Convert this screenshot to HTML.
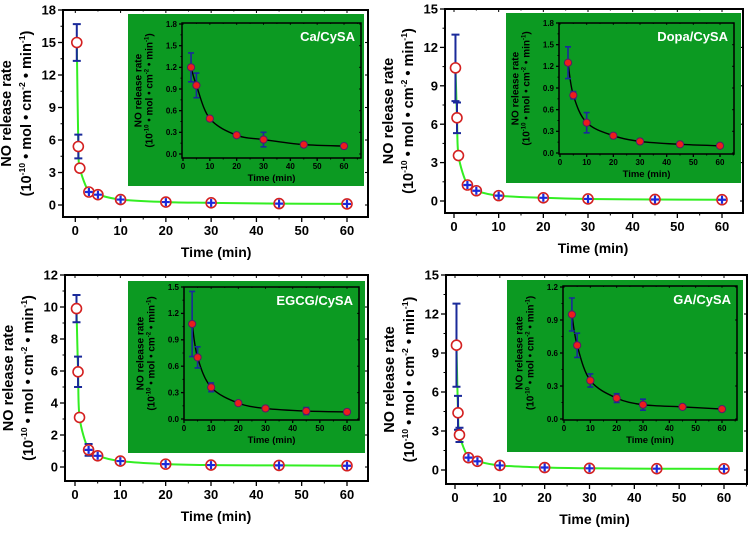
<!DOCTYPE html>
<html><head><meta charset="utf-8"><style>
html,body{margin:0;padding:0;background:#fff;width:749px;height:536px;overflow:hidden}
svg{display:block;font-family:"Liberation Sans",Arial,sans-serif;font-weight:bold}
</style></head><body>
<svg id="fig" width="749" height="536" viewBox="0 0 749 536"></svg>
<script>
const mainTimes=[0.33,0.67,1,3,5,10,20,30,45,60];
const insetTimes=[3,5,10,20,30,45,60];
const p1Main=[15,5.4,3.4,1.2,0.95,0.5,0.27,0.2,0.13,0.1];
const p1MainErr=[1.7,1.1,0.3,0.15,0.1,0.05,0.03,0.02,0.01,0.01];
const p1Inset=[1.2,0.95,0.49,0.26,0.2,0.13,0.11];
const p1InsetErr=[0.2,0.17,0.02,0.02,0.1,0.01,0.02];
const p2Main=[10.4,6.5,3.55,1.25,0.8,0.42,0.25,0.16,0.12,0.1];
const p2MainErr=[2.6,1.2,0.1,0.1,0.1,0.05,0.03,0.02,0.01,0.01];
const p2Inset=[1.25,0.8,0.42,0.24,0.16,0.12,0.1];
const p2InsetErr=[0.22,0.05,0.14,0.02,0.03,0.02,0.01];
const p3Main=[9.9,5.95,3.1,1.07,0.7,0.37,0.18,0.12,0.1,0.08];
const p3MainErr=[0.85,0.95,0.1,0.37,0.1,0.05,0.02,0.02,0.02,0.01];
const p3Inset=[1.08,0.7,0.36,0.18,0.12,0.09,0.08];
const p3InsetErr=[0.37,0.12,0.05,0.02,0.02,0.04,0.01];
const p4Main=[9.6,4.4,2.7,0.95,0.67,0.35,0.19,0.13,0.1,0.09];
const p4MainErr=[3.2,1.3,0.55,0.1,0.08,0.05,0.03,0.02,0.01,0.01];
const p4Inset=[0.95,0.67,0.35,0.19,0.13,0.11,0.09];
const p4InsetErr=[0.15,0.11,0.06,0.04,0.05,0.01,0.02];
const mainYTicks1=[0,3,6,9,12,15,18];
const mainYTicks2=[0,3,6,9,12,15];
const mainYTicks3=[0,2,4,6,8,10,12];
const mainYTicks4=[0,3,6,9,12,15];
const insetYTicks1=[0,0.3,0.6,0.9,1.2,1.5,1.8];
const insetYTicks3=[0,0.3,0.6,0.9,1.2,1.5];
const insetYTicks4=[0,0.3,0.6,0.9,1.2];
const xTicks=[0,10,20,30,40,50,60];
const labels=["Ca/CySA","Dopa/CySA","EGCG/CySA","GA/CySA"];

const NS="http://www.w3.org/2000/svg";
const svg=document.getElementById('fig');
function mk(tag,attrs,parent){const e=document.createElementNS(NS,tag);for(const k in attrs)e.setAttribute(k,attrs[k]);(parent||svg).appendChild(e);return e;}
function lin(d0,d1,r0,r1){return v=>r0+(v-d0)*(r1-r0)/(d1-d0);}
function smooth(pts){
  let d="M"+pts[0][0]+","+pts[0][1];
  for(let i=0;i<pts.length-1;i++){
    const p0=pts[Math.max(i-1,0)],p1=pts[i],p2=pts[i+1],p3=pts[Math.min(i+2,pts.length-1)];
    let c1x=p1[0]+(p2[0]-p0[0])/6,c1y=p1[1]+(p2[1]-p0[1])/6;
    let c2x=p2[0]-(p3[0]-p1[0])/6,c2y=p2[1]-(p3[1]-p1[1])/6;
    c1x=Math.max(p1[0],Math.min(p2[0],c1x));c2x=Math.max(p1[0],Math.min(p2[0],c2x));
    const lo=Math.min(p1[1],p2[1]),hi=Math.max(p1[1],p2[1]);
    c1y=Math.max(lo,Math.min(hi,c1y));c2y=Math.max(lo,Math.min(hi,c2y));
    d+=" C"+c1x+","+c1y+" "+c2x+","+c2y+" "+p2[0]+","+p2[1];
  }
  return d;
}
function fmt(v,dec){return dec?v.toFixed(1):String(v);}

function axes(g,G,yTicks,dec,fs,tl,small){
  const X=lin(0,60,G.x0,G.x60),Y=lin(0,yTicks[yTicks.length-1],G.y0,G.ymax);
  const fr=mk('rect',{x:G.L,y:G.T,width:G.R-G.L,height:G.B-G.T,fill:'none',stroke:'#000','stroke-width':small?1.5:2},g);
  
  const step=yTicks[1]-yTicks[0];
  for(let i=0;i<yTicks.length;i++){
    const v=yTicks[i],y=Y(v);
    mk('line',{x1:G.L-tl,x2:G.L,y1:y,y2:y,stroke:'#000','stroke-width':1.3},g);
    mk('line',{x1:G.R,x2:G.R-tl*0.6,y1:y,y2:y,stroke:'#000','stroke-width':1.1},g);
    const t=mk('text',{x:G.L-tl-2,y:y+fs*0.35,'text-anchor':'end','font-size':fs},g);t.textContent=fmt(v,dec);
    
  }
  for(let v=-step/2;Y(v)>=G.T-0.1;v+=step){const y=Y(v);if(y>G.B+0.1)continue;
    mk('line',{x1:G.L-tl/2,x2:G.L,y1:y,y2:y,stroke:'#000','stroke-width':1},g);}
  for(let v=-5;X(v)<=G.R;v+=5){const x=X(v);if(x<G.L)continue;const maj=(v%10===0);
    mk('line',{x1:x,x2:x,y1:G.B,y2:G.B+(maj?tl:tl/2),stroke:'#000','stroke-width':maj?1.3:1},g);
    mk('line',{x1:x,x2:x,y1:G.T,y2:G.T+(maj?tl*0.6:tl*0.3),stroke:'#000','stroke-width':1},g);
    if(xTicks.includes(v)){const t=mk('text',{x:x,y:G.B+tl+fs*1.0,'text-anchor':'middle','font-size':fs},g);t.textContent=v;
      }
  }
  return {X,Y};
}

function ytitle(g,cx,cy,fs,gap,fill){
  const t1=mk('text',{x:0,y:0,'text-anchor':'middle','font-size':fs,fill:fill,transform:`translate(${cx-gap},${cy}) rotate(-90)`},g);
  t1.textContent='NO release rate';
  
  const t2=mk('text',{x:0,y:0,'text-anchor':'middle','font-size':fs,fill:fill,transform:`translate(${cx+gap},${cy}) rotate(-90)`},g);
  t2.innerHTML=`(10<tspan dy="${-fs*0.4}" font-size="${fs*0.6}">-10</tspan><tspan dy="${fs*0.4}"> • mol • cm</tspan><tspan dy="${-fs*0.4}" font-size="${fs*0.6}">-2</tspan><tspan dy="${fs*0.4}"> • min</tspan><tspan dy="${-fs*0.4}" font-size="${fs*0.6}">-1</tspan><tspan dy="${fs*0.4}">)</tspan>`;
  
}

function panel(idx,M,I,main,mainErr,yT,ins,insErr,iyT){
  const g=mk('g',{});
  
  const A=axes(g,M,yT,false,13,5,false);
  const xt=mk('text',{x:(M.x0+M.x60)/2+5,y:M.B+40,'text-anchor':'middle','font-size':14},g);xt.textContent='Time (min)';
  
  ytitle(g,M.L-42,(M.T+M.B)/2,14.5,10,'#000');
  const bg=mk('rect',{x:I.gx,y:I.gy,width:I.gw,height:I.gh,fill:'#0c9a22'},g);
  
  const cp=mk('path',{d:smooth(mainTimes.map((t,i)=>[A.X(t),A.Y(main[i])])),fill:'none',stroke:'#33ee22','stroke-width':2},g);
  
  mainTimes.forEach((t,i)=>{
    const x=A.X(t),y=A.Y(main[i]),e=mainErr[i];
    const eb=mk('path',{d:`M${x},${A.Y(main[i]+e)}V${A.Y(main[i]-e)}M${x-4},${A.Y(main[i]+e)}h8M${x-4},${A.Y(main[i]-e)}h8`,stroke:'#1a2a9a','stroke-width':2,fill:'none'},g);
    
    const c=mk('circle',{cx:x,cy:y,r:5,fill:'#fff',stroke:'#d42020','stroke-width':1.6},g);
    
    if(i>=3){const p=mk('path',{d:`M${x-4},${y}h8M${x},${y-4}v8`,stroke:'#1a2adb','stroke-width':2.2},g);
      }
  });
  const B=axes(g,I,iyT,true,8,3,true);
  const it=mk('text',{x:(I.L+I.R)/2,y:I.B+23,'text-anchor':'middle','font-size':9.5},g);it.textContent='Time (min)';
  
  ytitle(g,I.L-35,(I.T+I.B)/2,10,5.5,'#000');
  const ic=mk('path',{d:smooth(insetTimes.map((t,i)=>[B.X(t),B.Y(ins[i])])),fill:'none',stroke:'#000','stroke-width':1.4},g);
  
  insetTimes.forEach((t,i)=>{
    const x=B.X(t),y=B.Y(ins[i]),e=insErr[i];
    const eb=mk('path',{d:`M${x},${B.Y(ins[i]+e)}V${B.Y(ins[i]-e)}M${x-3},${B.Y(ins[i]+e)}h6M${x-3},${B.Y(ins[i]-e)}h6`,stroke:'#1a2a9a','stroke-width':1.6,fill:'none'},g);
    
    const c=mk('circle',{cx:x,cy:y,r:3.6,fill:'#ee1c1c',stroke:'#5a1a6a','stroke-width':1},g);
    
  });
  const lb=mk('text',{x:I.R-6,y:I.T+18,'text-anchor':'end','font-size':13,fill:'#fff'},g);lb.textContent=labels[idx];
  
}

panel(0,{L:63,R:368,T:10,B:217,x0:75.3,x60:347,y0:205,ymax:10},
  {gx:128,gy:14,gw:236,gh:172,L:182,R:361,T:23,B:158,x0:183,x60:344,y0:154,ymax:24},
  p1Main,p1MainErr,mainYTicks1,p1Inset,p1InsetErr,insetYTicks1);
panel(1,{L:445,R:743,T:9,B:213,x0:454,x60:722,y0:201,ymax:9},
  {gx:506,gy:13,gw:235,gh:170,L:559,R:734,T:23,B:154,x0:560,x60:720,y0:153,ymax:23},
  p2Main,p2MainErr,mainYTicks2,p2Inset,p2InsetErr,insetYTicks1);
panel(2,{L:65,R:368,T:275,B:481,x0:75,x60:347,y0:467,ymax:275},
  {gx:128,gy:281,gw:237,gh:172,L:184,R:359,T:287,B:420,x0:184,x60:347,y0:419,ymax:287},
  p3Main,p3MainErr,mainYTicks3,p3Inset,p3InsetErr,insetYTicks3);
panel(3,{L:446,R:747,T:275,B:484,x0:455,x60:724,y0:470,ymax:275},
  {gx:507,gy:280,gw:236,gh:172,L:563,R:737,T:286,B:420,x0:564,x60:722,y0:419,ymax:287},
  p4Main,p4MainErr,mainYTicks4,p4Inset,p4InsetErr,insetYTicks4);
</script>
</body></html>
